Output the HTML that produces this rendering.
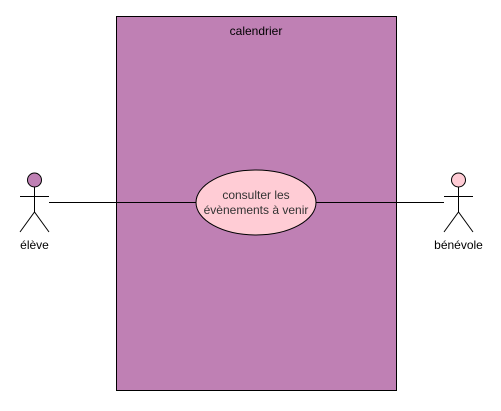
<!DOCTYPE html>
<html><head><meta charset="utf-8"><style>body{margin:0;background:#fff}</style></head><body>
<svg width="501" height="406" xmlns="http://www.w3.org/2000/svg" font-family="Liberation Sans, sans-serif" font-size="12">
<rect x="116.5" y="16.5" width="280" height="374" fill="#BF80B4" stroke="#000"/>
<text x="256" y="35" text-anchor="middle" fill="#000">calendrier</text>
<line x1="49" y1="202.5" x2="196" y2="202.5" stroke="#000"/>
<line x1="316" y1="202.5" x2="444" y2="202.5" stroke="#000"/>
<ellipse cx="256" cy="202.5" rx="60" ry="32.5" fill="#FFCCD5" stroke="#000"/>
<text x="256" y="199" text-anchor="middle" fill="#333">consulter les</text>
<text x="256" y="214" text-anchor="middle" fill="#333">évènements à venir</text>
<g stroke="#000" fill="none">
<circle cx="34.5" cy="180" r="7" fill="#BF80B4"/>
<line x1="34.5" y1="187" x2="34.5" y2="212"/>
<line x1="20" y1="196.5" x2="49" y2="196.5"/>
<polyline points="20,232 34.5,212 49,232"/>
<circle cx="458.5" cy="180" r="7" fill="#FFCCD5"/>
<line x1="458.5" y1="187" x2="458.5" y2="212"/>
<line x1="444" y1="196.5" x2="473" y2="196.5"/>
<polyline points="444,232 458.5,212 473,232"/>
</g>
<text x="34.5" y="249" text-anchor="middle">élève</text>
<text x="458.5" y="249" text-anchor="middle">bénévole</text>
</svg>
</body></html>
